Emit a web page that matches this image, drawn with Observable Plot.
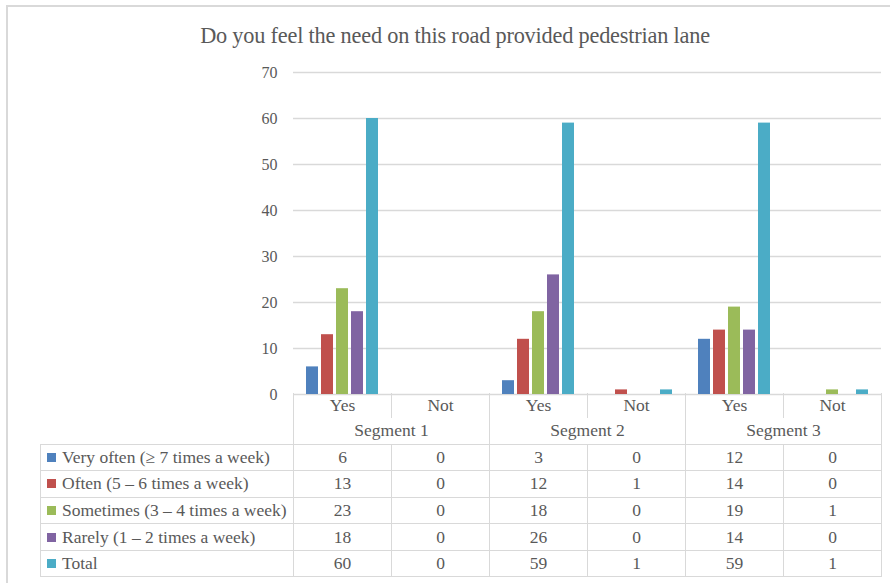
<!DOCTYPE html>
<html>
<head>
<meta charset="utf-8">
<script src="https://cdn.jsdelivr.net/npm/d3@7"></script>
<script src="https://cdn.jsdelivr.net/npm/@observablehq/plot@0.6"></script>
<style>
  html, body { margin: 0; padding: 0; background: #fff; }
  #wrap { position: relative; width: 890px; height: 583px; overflow: hidden; background: #fff;
          font-family: "Liberation Serif", "Times New Roman", serif; color: #595959; }
  #frame { position: absolute; left: 6px; top: 5px; width: 900px; height: 600px;
           border-left: 2px solid #d9d9d9; border-top: 2px solid #d9d9d9; }
  #title { position: absolute; left: 0; width: 910px; top: 23px; text-align: center;
           font-size: 22.3px; letter-spacing: -0.2px; }
  #chart { position: absolute; left: 0; top: 0; }
  #tbl { position: absolute; left: 40px; top: 393px; border-collapse: collapse; table-layout: fixed;
         font-size: 17.5px; color: #595959; }
  #tbl td { padding: 0; border: 1.5px solid #d9d9d9; text-align: center; white-space: nowrap; }
  #tbl td.lab { text-align: left; padding-left: 6px; }
  .sw { display: inline-block; width: 9px; height: 9px; margin-right: 6px; vertical-align: 1px; }
</style>
</head>
<body>
<div id="wrap">
  <div id="frame"></div>
  <div id="title">Do you feel the need on this road provided pedestrian lane</div>
  <div id="chart"></div>
  <table id="tbl"></table>
</div>
<script>
const segments = ["Segment 1", "Segment 2", "Segment 3"];
const answers = ["Yes", "Not"];
const seriesNames = [
  "Very often (\u2265 7 times a week)",
  "Often (5 \u2013 6 times a week)",
  "Sometimes (3 \u2013 4 times a week)",
  "Rarely (1 \u2013 2 times a week)",
  "Total"
];
const veryOften = [6, 0, 3, 0, 12, 0];
const often     = [13, 0, 12, 1, 14, 0];
const sometimes = [23, 0, 18, 0, 19, 1];
const rarely    = [18, 0, 26, 0, 14, 0];
const total     = [60, 0, 59, 1, 59, 1];
const seriesColors = ["#4f81bd", "#c0504d", "#9bbb59", "#8064a2", "#4bacc6"];
const yTicks = [0, 10, 20, 30, 40, 50, 60, 70];

const seriesValues = [veryOften, often, sometimes, rarely, total];
const cats = segments.flatMap(s => answers.map(a => s + "|" + a));
const data = [];
seriesNames.forEach((name, i) => {
  cats.forEach((c, j) => data.push({cat: c, series: name, value: seriesValues[i][j]}));
});

const chart = Plot.plot({
  width: 890,
  height: 414,
  marginTop: 72,
  marginBottom: 20,
  marginLeft: 293,
  marginRight: 9,
  style: {fontFamily: "'Liberation Serif', serif", fontSize: "16px", color: "#595959", background: "transparent"},
  fx: {domain: cats, padding: 0, axis: null},
  x: {domain: seriesNames, paddingInner: 0.17, paddingOuter: 0.8, axis: null},
  y: {domain: [0, 70], axis: null},
  color: {domain: seriesNames, range: seriesColors},
  marks: [
    Plot.gridY(yTicks, {stroke: "#d9d9d9", strokeOpacity: 1, strokeWidth: 1.5}),
    Plot.axisY(yTicks, {tickSize: 0, tickPadding: 16, label: null, fontSize: 16, fontFamily: "Liberation Serif", fill: "#595959"}),
    Plot.barY(data, {fx: "cat", x: "series", y: "value", fill: "series"})
  ]
});
document.getElementById("chart").appendChild(chart);

// Data table below the chart
const tbl = document.getElementById("tbl");
const colW = 98, labW = 253;
let html = "<colgroup><col style='width:" + labW + "px'>" + cats.map(() => "<col style='width:" + colW + "px'>").join("") + "</colgroup>";
html += "<tr style='height:25px'><td style='border:none;border-right:1.5px solid #d9d9d9'></td>" +
  cats.map(c => "<td style='border-bottom:none;border-top:none;vertical-align:middle'>" + c.split("|")[1] + "</td>").join("") + "</tr>";
html += "<tr style='height:26px'><td style='border:none;border-right:1.5px solid #d9d9d9'></td>" +
  segments.map(s => "<td colspan='2' style='border-top:none'>" + s + "</td>").join("") + "</tr>";
seriesNames.forEach((name, i) => {
  html += "<tr style='height:26.6px'><td class='lab'><span class='sw' style='background:" + seriesColors[i] + "'></span>" + name + "</td>" +
    seriesValues[i].map(v => "<td>" + v + "</td>").join("") + "</tr>";
});
tbl.innerHTML = html;
</script>
</body>
</html>
